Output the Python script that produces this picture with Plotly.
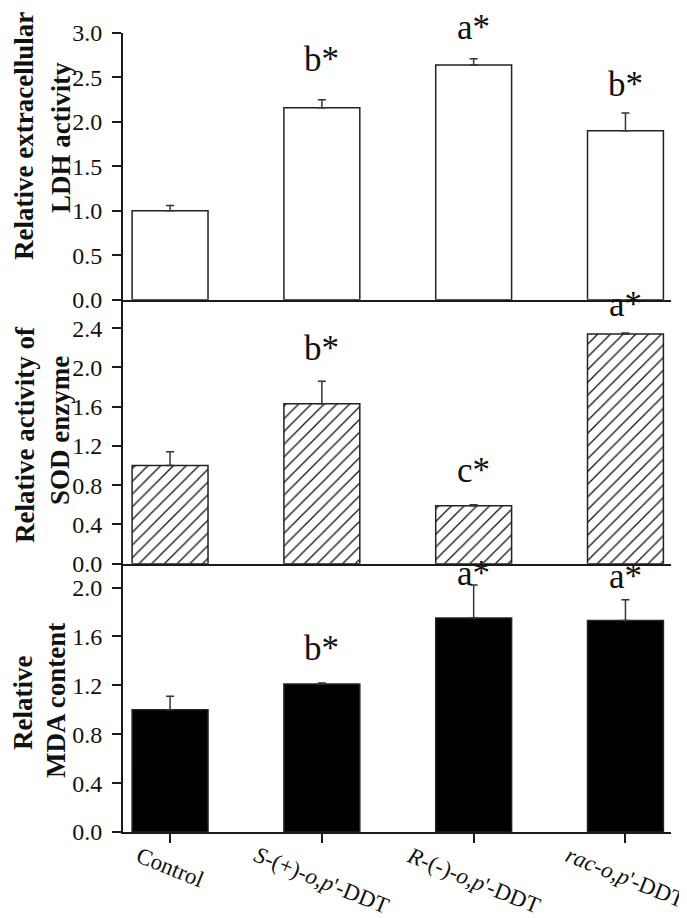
import plotly.graph_objects as go
from plotly.subplots import make_subplots

categories = ["Control", "S-(+)-o,p'-DDT", "R-(-)-o,p'-DDT", "rac-o,p'-DDT"]
tick_labels = ["Control",
               "<i>S</i>-(+)-<i>o</i>,<i>p</i>'-DDT",
               "<i>R</i>-(-)-<i>o</i>,<i>p</i>'-DDT",
               "<i>rac</i>-<i>o</i>,<i>p</i>'-DDT"]

ldh_mean = [1.00, 2.16, 2.64, 1.90]
ldh_err = [0.06, 0.09, 0.07, 0.20]
ldh_sig = ["", "b*", "a*", "b*"]
ldh_sig_y = [None, 2.49, 2.85, 2.21]

sod_mean = [1.00, 1.63, 0.59, 2.34]
sod_err = [0.14, 0.23, 0.01, 0.01]
sod_sig = ["", "b*", "c*", "a*"]
sod_sig_y = [None, 2.00, 0.76, 2.45]

mda_mean = [1.00, 1.21, 1.75, 1.73]
mda_err = [0.11, 0.01, 0.27, 0.17]
mda_sig = ["", "b*", "a*", "a*"]
mda_sig_y = [None, 1.35, 1.96, 1.94]

y_title_lines = [["Relative extracellular", "LDH activity"],
                 ["Relative activity of", "SOD enzyme"],
                 ["Relative", "MDA content"]]

FONT = "Liberation Serif"
INK = "#1a1a1a"

fig = make_subplots(rows=3, cols=1, shared_xaxes=True, vertical_spacing=0)

err_style = dict(type="data", symmetric=False, arrayminus=[0, 0, 0, 0],
                 color="#333333", thickness=1.5, width=4)
line_style = dict(color="#222222", width=1.5)

fig.add_trace(go.Bar(x=categories, y=ldh_mean, width=0.5,
                     marker=dict(color="white", line=line_style),
                     error_y=dict(array=ldh_err, **err_style)), row=1, col=1)
fig.add_trace(go.Bar(x=categories, y=sod_mean, width=0.5,
                     marker=dict(color="white", line=line_style,
                                 pattern=dict(shape="/", size=9, solidity=0.14,
                                              fgcolor="#111111", bgcolor="white",
                                              fillmode="replace")),
                     error_y=dict(array=sod_err, **err_style)), row=2, col=1)
fig.add_trace(go.Bar(x=categories, y=mda_mean, width=0.5,
                     marker=dict(color="black", line=line_style),
                     error_y=dict(array=mda_err, **err_style)), row=3, col=1)

doms = [[0.6662, 1.0], [0.3358, 0.6662], [0.0, 0.3358]]
yranges = [[0, 3.0], [0, 2.69], [0, 2.195]]
dticks = [0.5, 0.4, 0.4]

for i in range(3):
    yname = "yaxis" if i == 0 else f"yaxis{i+1}"
    xname = "xaxis" if i == 0 else f"xaxis{i+1}"
    fig.layout[yname].update(domain=doms[i], range=yranges[i], dtick=dticks[i],
                             tick0=0, tickformat=".1f", showgrid=False, zeroline=False,
                             showline=True, linecolor=INK, linewidth=2,
                             ticks="outside", ticklen=9, tickwidth=1.5, tickcolor=INK,
                             ticklabelstandoff=5,
                             tickfont=dict(family=FONT, size=24, color="#111111"))
    fig.layout[xname].update(range=[-0.31, 3.30], showgrid=False, zeroline=False,
                             showline=True, linecolor=INK, linewidth=2,
                             showticklabels=False,
                             ticks="outside" if i == 2 else "",
                             ticklen=9, tickwidth=1.5, tickcolor=INK)

annotations = []
for i, (sig, sig_y) in enumerate([(ldh_sig, ldh_sig_y), (sod_sig, sod_sig_y), (mda_sig, mda_sig_y)]):
    xr = "x" if i == 0 else f"x{i+1}"
    yr = "y" if i == 0 else f"y{i+1}"
    for c, s, yy in zip(categories, sig, sig_y):
        if not s:
            continue
        annotations.append(dict(x=c, y=yy, xref=xr, yref=yr, text=s, showarrow=False,
                                yanchor="bottom", xanchor="center", yshift=-2,
                                borderpad=0,
                                font=dict(family=FONT, size=35, color="#111111")))

for c, lab in zip(categories, tick_labels):
    annotations.append(dict(x=c, y=-0.010, xref="x3", yref="paper", text=lab,
                            showarrow=False, textangle=22, xanchor="center",
                            yanchor="top", font=dict(family=FONT, size=23, color="#111111")))

# title line positions in paper coordinates (line 1, line 2) per panel
title_pos = [[(-0.1807, 0.8711), (-0.1131, 0.8686)],
             [(-0.1788, 0.4969), (-0.1150, 0.5031)],
             [(-0.1825, 0.1615), (-0.1223, 0.1652)]]
for lines, pos in zip(y_title_lines, title_pos):
    for txt, (tx, ty) in zip(lines, pos):
        annotations.append(dict(x=tx, y=ty, xref="paper", yref="paper", text=f"<b>{txt}</b>",
                                showarrow=False, textangle=-90, xanchor="center",
                                yanchor="middle", borderpad=0,
                                font=dict(family=FONT, size=27, color="#111111")))

fig.update_layout(width=687, height=918, margin=dict(l=115, r=24, t=25, b=94),
                  paper_bgcolor="white", plot_bgcolor="white", showlegend=False,
                  bargap=0.5, annotations=annotations,
                  font=dict(family=FONT))

fig.write_html("out.html")
